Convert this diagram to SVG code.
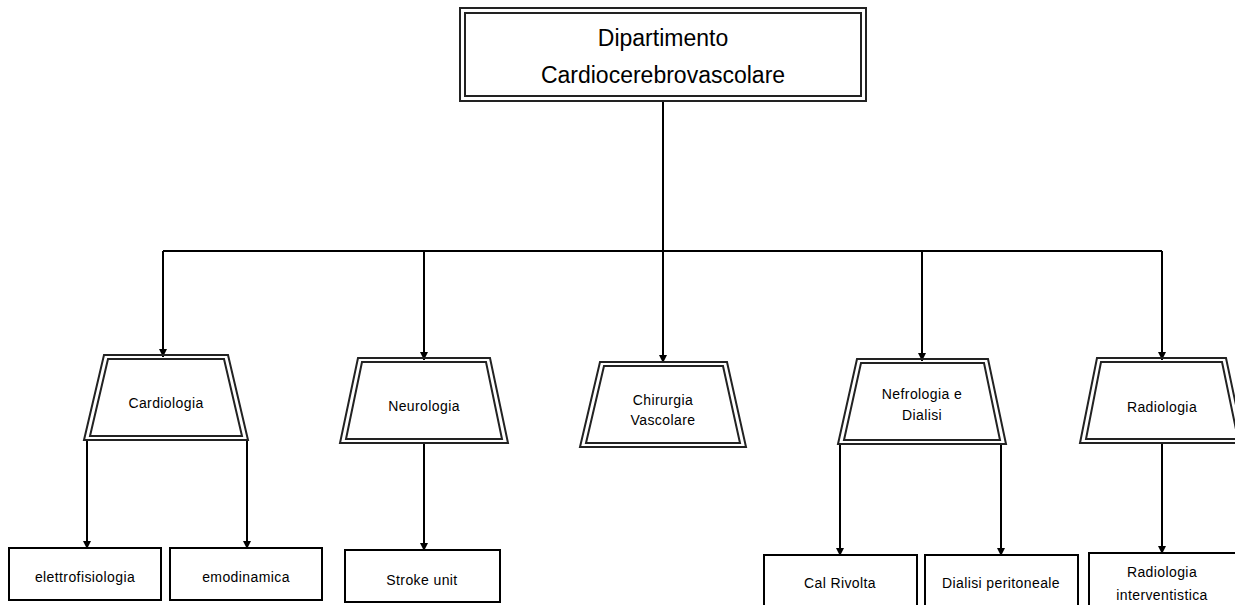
<svg xmlns="http://www.w3.org/2000/svg" width="1235" height="605" viewBox="0 0 1235 605">
<style>
.t{font-family:"Liberation Sans",Arial,sans-serif;fill:#000;text-anchor:middle}
.big{font-size:23px}
.sm{font-size:14px;letter-spacing:0.4px}
.frame{fill:none;stroke:#222;stroke-width:2}
.box{fill:#fff;stroke:#000;stroke-width:2}
.ln{fill:none;stroke:#000;stroke-width:2}
</style>
<defs>
<marker id="ah" viewBox="0 0 10 10" refX="10" refY="5" markerWidth="8" markerHeight="9" markerUnits="userSpaceOnUse" orient="auto">
<path d="M0,0 L10,5 L0,10 z" fill="#000"/>
</marker>
</defs>
<rect width="1235" height="605" fill="#fff"/>
<g id="connectors">
<path class="ln" d="M663,101 V251"/>
<path class="ln" d="M163,251 H1162"/>
<path class="ln" d="M163,251 V357" marker-end="url(#ah)"/>
<path class="ln" d="M424,251 V360" marker-end="url(#ah)"/>
<path class="ln" d="M663,251 V363" marker-end="url(#ah)"/>
<path class="ln" d="M922,251 V361" marker-end="url(#ah)"/>
<path class="ln" d="M1162,251 V360" marker-end="url(#ah)"/>
<path class="ln" d="M87,440 V549" marker-end="url(#ah)"/>
<path class="ln" d="M247,440 V549" marker-end="url(#ah)"/>
<path class="ln" d="M424,443 V551" marker-end="url(#ah)"/>
<path class="ln" d="M840,444 V556" marker-end="url(#ah)"/>
<path class="ln" d="M1001,444 V556" marker-end="url(#ah)"/>
<path class="ln" d="M1162,443 V554" marker-end="url(#ah)"/>
</g>
<g id="dipartimento">
<rect x="460" y="8" width="406" height="93" fill="#fff" class="frame"/>
<rect x="465" y="13" width="396" height="83" class="frame"/>
<text class="t big" x="663" y="46">Dipartimento</text>
<text class="t big" x="663" y="83">Cardiocerebrovascolare</text>
</g>
<g id="cardiologia">
<polygon points="104,355 228,355 248,440 84,440" fill="#fff" class="frame"/>
<polygon points="108,359 224,359 242,436 90,436" class="frame"/>
<text class="t sm" x="166" y="408">Cardiologia</text>
</g>
<g id="neurologia">
<polygon points="358,358 490,358 508,443 340,443" fill="#fff" class="frame"/>
<polygon points="362,362 486,362 502,439 346,439" class="frame"/>
<text class="t sm" x="424" y="411">Neurologia</text>
</g>
<g id="chirurgia">
<polygon points="600,362 727,362 746,447 580,447" fill="#fff" class="frame"/>
<polygon points="604,366 723,366 740,443 586,443" class="frame"/>
<text class="t sm" x="663" y="405">Chirurgia</text>
<text class="t sm" x="663" y="425">Vascolare</text>
</g>
<g id="nefrologia">
<polygon points="857,359 988,359 1006,444 838,444" fill="#fff" class="frame"/>
<polygon points="861,363 984,363 1000,440 844,440" class="frame"/>
<text class="t sm" x="922" y="399">Nefrologia e</text>
<text class="t sm" x="922" y="420">Dialisi</text>
</g>
<g id="radiologia">
<polygon points="1097,358 1226,358 1244,443 1080,443" fill="#fff" class="frame"/>
<polygon points="1101,362 1222,362 1238,439 1086,439" class="frame"/>
<text class="t sm" x="1162" y="412">Radiologia</text>
</g>
<g id="elettrofisiologia">
<rect class="box" x="9" y="548" width="152" height="52"/>
<text class="t sm" x="85" y="582">elettrofisiologia</text>
</g>
<g id="emodinamica">
<rect class="box" x="170" y="548" width="152" height="52"/>
<text class="t sm" x="246" y="582">emodinamica</text>
</g>
<g id="stroke">
<rect class="box" x="345" y="550" width="155" height="52"/>
<text class="t sm" x="422" y="585">Stroke unit</text>
</g>
<g id="calrivolta">
<rect class="box" x="764" y="555" width="153" height="55"/>
<text class="t sm" x="840" y="588">Cal Rivolta</text>
</g>
<g id="dialisi">
<rect class="box" x="925" y="555" width="153" height="55"/>
<text class="t sm" x="1001" y="588">Dialisi peritoneale</text>
</g>
<g id="radint">
<rect class="box" x="1089" y="553" width="150" height="57"/>
<text class="t sm" x="1162" y="577">Radiologia</text>
<text class="t sm" x="1162" y="600">interventistica</text>
</g>
</svg>
